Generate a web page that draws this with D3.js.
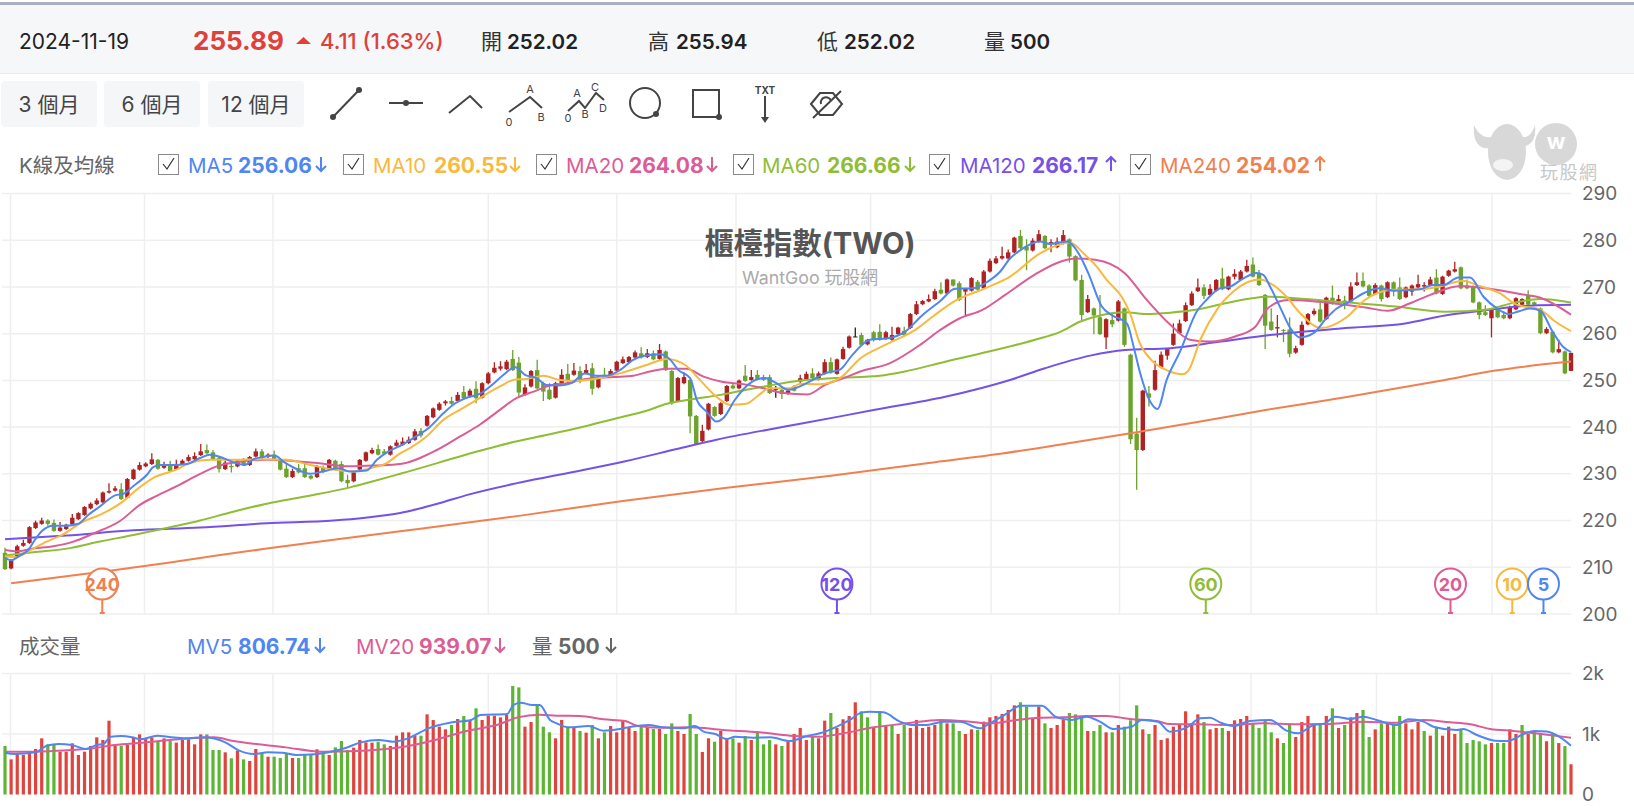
<!DOCTYPE html>
<html>
<head>
<meta charset="utf-8">
<script src="https://cdn.jsdelivr.net/npm/d3@7"></script>
<style>
  html, body { margin: 0; padding: 0; background: #fff; }
  svg { display: block; font-family: Inter, "Noto Sans CJK TC", sans-serif; }
</style>
</head>
<body>
<div id="main_chart"></div>
<script>
// K bars, one entry per session
const opens = [
  213.1,209.75,212.3,214.6,215.2,218.4,219.3,220,219.5,217.8,
  218.2,219.2,220.3,221.2,222.6,223.5,223.9,226,226.4,226.7,
  224.9,228.9,230.9,231.6,232.1,233,231.3,232.1,231,232.1,
  232.8,233.1,234,235.1,234.6,233.4,231,231.7,231.6,232.8,
  231.9,233.7,234.8,233.6,234.1,233,231.1,229.3,231.2,231.2,
  229.6,229.3,231.4,231.2,232.8,232.1,228.7,228.4,230.9,232.8,
  234.4,235.3,234.8,234.1,236,236.2,236.6,237.3,239.2,240.3,
  242.1,243.7,245.1,245.6,245.6,247.5,246.7,248.2,246.3,249.4,
  251.7,252.5,252.4,254.6,253.8,246.9,248.7,252.2,249.4,248,
  246.3,249.4,251.4,251.2,252,251.5,252.6,248.5,251.2,251,
  252.1,253.7,253.9,254.9,255.8,255,255.8,254.6,256.2,252,
  245.6,249.4,250.1,242.4,237,239.5,244.3,242.8,245.6,248.9,
  248.3,251,250.1,251.2,250.7,250.7,248.2,248,247.1,248.7,
  249.75,250.2,251.5,250.25,251.4,253.9,251.4,254.6,257,259.4,
  259.7,257.7,260.3,260.4,258.9,258.7,259.9,260.6,261.2,264.2,
  266.3,266.9,267.4,269.4,268.6,271.6,270.8,269,269.2,271.1,
  269.7,273.3,275.1,276.1,276.1,277.4,280.9,278.6,277.8,279.7,
  280.9,279.2,278.5,279.3,280.2,276.6,271.5,264.6,265.4,263.5,
  259.2,262.9,262.8,265.4,255.5,238.6,235.1,247.2,248,252.8,
  255.3,257.6,260.1,262.7,266.1,269.1,269.9,268.3,269.2,271.8,
  269.5,272.2,271.5,273.3,274.8,272.9,268.3,262.6,261.1,260.8,
  260.9,255.95,257.6,262,264.2,265.2,263.1,267.7,266.9,267.1,
  266.9,270.4,271.3,270.3,268.5,270.3,267.8,271,269.9,267.8,
  269,269.9,270.1,270.4,272,268.5,272.4,273.3,274.2,270.3,
  270.1,266.7,264.6,263.3,265.4,264,263.3,265.2,266.2,268.2,
  266.7,265.4,260.1,260.4,256,256.2,252.02
];
const closes = [
  209.6,211.46,214.5,215.2,218.6,219.6,220,219.3,217.8,218.5,
  219.1,220.6,221.6,222.9,223.6,224.3,226,226.3,226.9,224.6,
  228.9,230.9,231.9,232.2,233.1,231.1,231.9,230.6,232.1,232.8,
  233.6,233.8,234.8,234.4,233.1,231,232.4,231.4,232.8,231.9,
  233.6,234.8,233.4,234.1,233.1,230.9,229.3,230.6,230.3,229.3,
  229,231.7,230.4,233,231.1,228.4,228,230.3,233,234.6,
  235.1,234.1,234.3,235.9,236.7,236.9,237.3,239.1,238.2,242.4,
  244,245,245.5,245,246.9,246.2,247.8,246.2,249.4,251.5,
  252.7,253,254,252.2,247.4,248.5,252,248.3,247.6,246,
  249.4,251.2,250.1,252.1,250.1,252.2,248.2,250.8,250.7,252,
  254,254.5,255,256,254.9,255.8,254.5,256.5,252.2,245.1,
  250.5,250.7,242.3,236.4,239.2,245,242.4,245.1,248.8,248.3,
  249.96,249.9,250.7,250.2,250.1,247.3,248.2,247.1,247.8,247.8,
  250.46,251.4,250.5,251.5,253.9,251.9,254.5,256.7,259.4,259.4,
  257.6,258.7,258.7,258.7,260.3,259.7,261.3,259.7,264.2,266.3,
  267,267.4,269.1,268.6,271.6,270.3,267.2,269.6,271.9,269.4,
  273.3,275.6,276.1,276.6,277.4,280.55,278.3,277.8,279.9,281.3,
  278.3,279.6,279.7,281.1,276.5,271.4,264,267.4,263.9,259.9,
  263.1,262,266.9,257.6,237.4,235.1,247.8,246.3,252.2,255.5,
  256.7,260,262.2,266.1,268.6,269.9,268.1,269.6,271.5,269.5,
  272.2,272.8,273.3,274.5,272.2,270.4,261.7,260.8,261.4,260.6,
  255.7,256.9,261.9,264.2,264.9,262.6,267.7,266.4,267.4,266.4,
  270.1,271,270.1,268.1,270.4,267.4,271,269.1,267.4,269.9,
  270.3,270.6,270.4,271.6,268.6,272.2,273.5,273.8,269.7,269.7,
  266.7,264,264,265.1,263.5,263.3,265.6,267.6,267.4,266.2,
  266.2,260.1,261,256,256.7,251.5,255.89
];
const highs = [
  214.2,211.7,214.8,215.9,218.8,220,220.6,220.3,220.2,219.7,
  219.3,221.4,221.8,223.1,223.9,224.8,226.2,228,227.4,228,
  229.1,231.1,232.5,232.5,234.4,233.2,232.6,232.8,233,233.1,
  234.1,234.6,236.4,236.3,235.1,233.6,232.8,232.1,233.1,233.4,
  233.8,235.4,235.3,234.4,235,233.3,232.1,231.1,232.1,232.1,
  229.8,231.9,231.8,233.2,233,232.7,229.8,230.5,233.2,234.8,
  235.6,236.3,235.3,236.1,237.3,237.8,238,239.6,239.8,242.6,
  244.2,245.3,245.8,246.5,247.5,248.8,248.2,249.8,249.6,251.8,
  253.9,254.1,254.4,256.5,255,249.2,252.2,254.4,249.7,249.4,
  249.7,252.4,253.5,253.7,253,253.5,253.7,251,252.7,252.4,
  254.2,255.1,255.2,256.4,257.1,256.7,256.4,257.8,256.4,252.2,
  250.7,251.7,250.3,242.6,240.5,245.2,244.5,245.3,249,249.4,
  250.2,253.3,252.2,252.2,251.2,251.2,248.8,248.8,248,249,
  251.2,251.9,252.6,251.9,254.5,254.9,254.7,257.2,259.6,261.3,
  260.2,258.9,260.6,262,260.6,261.5,261.5,261.5,264.4,267,
  267.2,268.4,269.6,271,271.8,271.6,271.2,269.8,272.1,271.5,
  273.6,276.1,276.6,278.6,278,280.75,282.2,280.2,280.4,282.2,
  281.1,280.2,280.6,282.2,280.4,276.8,272.6,268.3,265.6,268.3,
  263.3,264.4,267.2,265.6,255.7,242,248,248.8,254.2,256.2,
  256.9,262.2,263,266.7,269.1,271.8,270.6,270.6,271.7,274.1,
  272.4,273.8,273.6,275.8,276.3,273.6,268.5,265.4,264,261,
  263.5,257.4,262.6,264.4,265.4,266.7,267.9,270.3,268.3,268.1,
  271,273.1,273.1,270.6,270.8,270.5,271.2,271.2,272,270.1,
  270.5,272.6,271,272.2,273.8,272.4,273.7,275.4,274.4,271.6,
  270.3,266.9,266.1,265.3,265.6,264.8,266,267.8,267.6,269.3,
  266.9,265.6,261.4,260.6,258.7,256.4,255.94
];
const lows = [
  209.4,209.6,212,214.4,215,218.2,219.1,218.9,217.6,217.6,
  218,219,220.1,221,222.4,223.3,223.7,225.8,226.2,224.4,
  224.7,228.7,230.7,231.4,231.9,230.9,231.1,230.4,230.8,231.9,
  232.6,232.9,233.8,234.2,232.9,230.3,230.8,230.3,231.4,231.7,
  231.7,233.5,233.2,233.4,232.9,230.7,229.1,229.1,230.1,229.1,
  228.8,229.1,230.2,231,230.9,228.2,226.9,228.2,230.7,232.6,
  234.2,233.9,234.1,233.9,235.8,236,236.4,237.1,237.8,240.1,
  241.9,243.5,244.6,244.8,245.4,246,246.5,245.1,246.1,249.2,
  251.5,252.1,252.2,252,246.4,246.7,248.5,248.1,245.6,245.8,
  246.1,249.2,249.4,251,249.4,251.3,246.9,248.3,250.5,250.8,
  251.9,253.5,253.7,254.7,254.7,254.8,254.3,254.4,252,244.8,
  245.4,249.2,238.7,236.2,236.8,239.3,242.2,242.6,245.4,248.1,
  248.1,249.7,249.9,250,249.9,247.1,246.3,246,246.9,247.6,
  249.3,250,250.3,250,251.2,251.4,251.2,254.4,256.8,259.3,
  257.4,257.5,258.3,258.5,258.7,258.5,259.7,259.5,261,264,
  266.1,266.7,267.2,268.4,268.4,270.1,267,263.9,269,269.2,
  269.5,273.1,274.9,275.9,275.9,277.2,278.1,273.6,277.6,279.5,
  278.1,277.4,278.3,279.1,275.2,271.2,262.9,264.4,259.9,259.7,
  256.7,261.4,262.6,257.2,236.4,226.6,234.9,244.4,247.8,252.6,
  254.4,257.4,259.9,262.5,265.9,268.9,267.4,268.1,269,269.3,
  269.3,271.6,271.3,273.1,272,270.2,256.7,260.6,259.2,258.2,
  254.95,255.7,257.4,261.8,263.9,262.4,262.9,266.2,266.7,265.2,
  266.7,270.2,269.9,267.9,268.3,266.9,267.6,268,267.2,267.6,
  268.1,269.7,269,270.2,268.4,268.3,272.2,273.1,269.5,269.5,
  266.5,263.1,263.8,259.2,263.3,263.1,263.1,265,266,266,
  266,259.9,259.9,255.8,255.8,251.3,252.02
];
const volumes = [
  802,581,680,653,691,752,928,829,829,708,
  708,846,653,708,802,945,901,1220,829,807,
  818,939,994,917,939,884,928,884,857,901,
  912,829,994,994,736,736,697,598,725,581,
  554,752,691,625,625,603,669,603,603,653,
  669,747,680,653,779,884,736,774,901,862,
  857,873,829,802,972,1027,1027,972,972,1325,
  1231,1121,1077,1149,1248,1297,1231,1424,1231,1303,
  1303,1275,1314,1793,1771,1121,1198,1479,1121,1028,
  929,1232,1110,1110,1050,1022,1149,929,1028,1132,
  1028,1215,1110,1050,1132,1105,1083,1083,1000,1176,
  1050,1000,1331,1000,703,929,873,1050,912,929,
  857,967,901,1022,829,901,829,802,873,1000,
  1099,901,956,929,1221,1347,1099,1243,1298,1524,
  1375,1276,1105,1375,1132,1149,1000,1149,1099,1232,
  1099,1121,1149,1215,1176,1176,1050,1000,1077,1066,
  1204,1276,1298,1331,1397,1474,1524,1452,1259,1452,
  1176,1099,1149,1232,1347,1325,1276,1050,1050,1149,
  1028,1028,1149,1121,1226,1474,1077,1000,1149,901,
  929,1121,1149,1375,1176,1325,1198,1077,1099,1099,
  1050,1226,1248,1298,1176,1099,1226,1028,929,851,
  1149,950,1198,1298,1149,1149,1298,1424,1099,1149,
  1276,1347,1397,950,1077,1176,1176,1149,1298,1176,
  1077,1198,1050,973,1099,973,1121,1000,1066,851,
  901,879,829,851,851,851,1077,1000,1149,1000,
  1050,1000,880,1000,850,800,500
];
// sessions whose volume bar is green
const volDown = [
  0,7,8,19,25,27,33,34,35,37,39,42,44,45,46,48,49,50,52,54,55,56,61,62,68,73,75,77,83,84,
  87,88,89,92,94,96,98,104,106,108,109,112,113,116,119,121,123,124,125,127,132,135,140,141,143,145,147,
  153,155,156,159,166,167,170,174,175,176,178,179,181,183,184,185,187,196,199,204,205,206,207,
  209,210,215,217,219,222,223,225,227,228,232,234,238,239,240,241,242,244,245,248,250,251,253,255
];

// moving averages, [session, value]
const ma5 = [[0,212],[1,211.5],[2.4,212.5],[3.8,213.7],[4.9,215.9],[6,217.7],[7.9,218.9],[10.1,218.9],[12,219.3],[13.6,221.2],[15.5,223],[18,225.4],[19.3,225.7],[21,227.4],[23.2,229.8],[24.2,231.4],[25.3,231.9],[27.5,231.9],[29.7,232.1],[31.9,233.4],[33.5,234.1],[35.2,233.6],[37.3,232.5],[39.2,231.9],[40.6,233.1],[42.2,233.6],[44.1,233.9],[45.5,232.6],[47.4,231.2],[49.9,230],[52,230.5],[54.5,231.2],[56.4,230.5],[59.1,230.7],[60.8,233],[62.7,234.8],[64.6,236],[66.7,237.6],[69.5,240.1],[71.7,243],[73.6,245.1],[75.7,246.4],[77.6,247.1],[79.6,249],[81.5,251.2],[83.4,252.8],[85,251.2],[86.9,250.5],[88.5,249],[90.7,248.9],[92.6,249.4],[94.8,251.5],[96.5,251],[98.4,251],[100.5,252.2],[102.7,254.4],[104.3,255.2],[107.1,255.6],[108.7,254.5],[110.1,252.2],[112,250.5],[113.1,245.8],[114.7,243.3],[116.3,241.2],[117.4,241.9],[119.3,245.8],[121.8,249.4],[124.2,250.5],[126.1,249.4],[128,248],[131.6,249.8],[134,251.5],[136.5,252.3],[138.5,255.4],[141.4,258.7],[144.3,259],[147.1,260.4],[150,264],[152.9,267],[155.3,269.6],[158.2,269.7],[160.6,271.1],[162.7,273.3],[164.3,276.1],[165.7,277.6],[169.2,279.7],[170.8,279.2],[173.6,279.7],[175.5,277.2],[177.1,272.9],[179.3,265.8],[180.9,264],[183.4,262.2],[184.5,257.2],[185.5,251.9],[187.2,245.5],[188.4,243.9],[189.9,250.1],[192.1,256.2],[194.8,264.7],[196.4,267.2],[198.6,269.7],[200.3,270.1],[202.4,271.8],[204.6,273],[205.7,272.6],[206.8,270.1],[208.4,265.8],[210.3,260.8],[211.7,259.2],[213.9,260.1],[216,263.3],[217.7,265.4],[219.9,266.9],[222,268.6],[224.8,269.7],[227,269.2],[231.3,269.5],[233.5,270.4],[235.1,270.4],[237.6,272],[239.5,272],[241.7,267.9],[243.9,265.4],[245.8,264.2],[247.5,264.8],[249.3,265.4],[251,264.9],[253,260.4],[254.7,257.2],[256,256.06]];
const ma10 = [[0,212.3],[1.9,212.2],[4.1,213.6],[6.8,215.5],[9.3,216.9],[12.8,219.8],[15.5,221.2],[19.3,224.1],[21.5,226.6],[24.2,229.1],[28,230.9],[30.2,232.3],[33.5,233],[37.3,233],[41.7,233.1],[46,233],[49.9,231.9],[53.7,230.9],[57,230.5],[59.7,231.2],[62.4,232.3],[64.6,234.4],[66.2,235.5],[68.9,238],[71.7,241.6],[74.9,244.1],[77.6,246.2],[80.9,248.7],[83.4,250.2],[85.3,250.3],[88,251],[90.7,250.1],[93.5,249.9],[97.3,250.5],[100.5,251.5],[104.9,253.3],[108.2,254.6],[111.2,253.3],[113.6,250.1],[116.3,246.5],[118.5,244.8],[121.2,245],[122.9,246.5],[125,248.3],[128.3,248.3],[130,249.3],[133.2,249.2],[136.5,250.5],[139.8,254.7],[143.9,257.6],[148.8,260.8],[152,264],[155.3,267],[160.2,269.7],[164.3,272.2],[169.2,277.2],[174.1,279.5],[176.3,277.2],[178.5,274.3],[180.1,271.5],[182.6,267.8],[183.9,264.4],[185.5,258],[187.7,254],[189.9,252.2],[192.5,251.3],[193.5,252.2],[195.4,258.7],[198.1,265.1],[200.8,269],[203.3,271.1],[205.2,271.6],[206.8,270.8],[209.5,267.9],[211.7,264.4],[215.2,261.2],[219.3,263.5],[222.3,267.2],[227,269.4],[231.3,269.5],[234.6,270.1],[238.4,271.3],[240.6,270.4],[244.4,268.6],[247.1,266.2],[251,265.1],[253.4,262.6],[256,260.55]];
const ma20 = [[0,213.7],[1.9,213.4],[4.6,214],[7.9,214.5],[11.2,215.5],[14.4,217.2],[18.8,219.9],[22.1,223.4],[24.8,225.3],[28,227.3],[31.9,230],[34.6,231.6],[38.4,232.6],[42.8,233],[46.6,232.8],[51,232.3],[56.4,231.6],[60.8,231.8],[64.6,232.1],[70.6,235.1],[74.4,238],[77.6,240.5],[80.9,243.7],[83.6,246.2],[86.4,247.6],[89.1,248.9],[91.8,249.4],[95.1,250.3],[99.5,250.7],[102.7,251],[105.4,251.9],[108.2,252.5],[111.4,252.5],[114.2,250.8],[117.2,249.7],[120.7,249.2],[124,248.3],[127.2,247.3],[131.2,247],[134,249],[137.3,250.6],[139.8,251.9],[144.7,253.7],[149.6,257.6],[152.9,260.8],[156.1,263.3],[159.8,265.1],[163.5,268.3],[168.4,272.7],[172.5,275.4],[175,276.1],[178.2,275.8],[183.1,272.9],[186.4,267.6],[190.5,261.9],[193.7,258.7],[197,258.3],[201.1,259.4],[204.4,261.5],[206.4,265.4],[209.7,267.2],[214.2,266.9],[219.1,266.2],[222.4,265.6],[226,264.9],[229.7,266.5],[233,268.3],[237.9,270.2],[242,269.7],[247.7,268.5],[251,267.7],[256,264.08]];
const ma60 = [[0,212.5],[4.6,213.2],[10.6,214.1],[15.5,215.5],[21,216.9],[26.4,218.4],[31.9,220],[37.3,221.9],[42.8,223.6],[49.3,225.2],[56.4,227.1],[60.2,228.4],[64.6,230],[78.7,235.3],[83.1,236.8],[88.5,238.3],[94,239.9],[100,241.9],[104.9,243.5],[108.2,245],[112.5,246],[116.9,246.9],[121.2,248],[125,248.9],[129.2,249.8],[135.7,250.5],[143,251],[147.1,251.9],[153.7,254],[161.9,256.5],[168.4,258.7],[172.5,260.4],[175.8,262.6],[179,263.9],[183.1,264.6],[186.4,264.2],[190.5,264.5],[194.6,265.1],[199.5,266.5],[206.4,267.9],[210.9,267.6],[219.1,266.7],[227.3,265.8],[235.4,264.7],[242,265.1],[246.9,266.7],[251,267.4],[256,266.66]];
const ma120 = [[0,216],[10.1,216.8],[21,217.9],[31.9,218.5],[42.8,219.4],[53.7,220],[58.9,220.6],[64.6,221.6],[67.3,222.4],[71,223.7],[75.9,225.6],[84.4,228.2],[92.9,230.4],[101.4,232.7],[109.8,235.3],[116.3,237.3],[124.5,239.4],[130,240.7],[142.2,243.7],[153.7,246.5],[164.3,250.1],[170,252.6],[177.4,255.3],[183.1,256.5],[190.5,256.9],[198.7,258.3],[206.8,259.7],[219.1,261.2],[228.9,262.2],[235.4,263.9],[242,265],[249.3,266],[256,266.17]];
const ma240 = [[1,206.6],[15.5,209],[26.4,210.9],[34.6,212.5],[42.8,214],[53.7,215.9],[64.6,217.7],[84,221],[101,224.2],[118,227],[135,229.6],[152,232.5],[162.7,234.3],[173.6,236.5],[184.5,238.8],[195.4,241.2],[206.3,243.7],[219.1,246.4],[235.4,250.1],[243.6,252.1],[256,254.02]];

const mv5 = [[0,691],[1.5,669],[5,697],[6.8,807],[8.8,835],[10.9,818],[13.2,752],[15,818],[16.1,835],[17.3,956],[19,967],[20.8,945],[22.2,912],[24.9,972],[27.2,945],[29.5,928],[32.5,945],[36,862],[38.3,725],[40.6,669],[43,697],[45.3,691],[47.6,653],[50.6,664],[52.9,697],[55.8,774],[58.2,862],[61.1,901],[63.4,873],[66.3,945],[69.2,1094],[72.7,1187],[76.2,1231],[77.7,1314],[82.1,1330],[83.1,1479],[84.3,1518],[86.2,1479],[87.4,1480],[89.1,1232],[90.2,1176],[92.1,1110],[95.4,1132],[97.8,1055],[100.5,1083],[102.4,1121],[105.2,1149],[107.6,1110],[110.9,1094],[112.8,1132],[114.2,1039],[116.1,1000],[118,918],[119.3,956],[122.3,940],[125.1,945],[128.3,884],[131.1,967],[133.2,1011],[136,1121],[138.1,1232],[140,1353],[141.4,1369],[143.6,1358],[146.3,1204],[148.2,1149],[150.7,1149],[153.4,1204],[156.1,1204],[159.4,1094],[161,1176],[163.8,1342],[166,1468],[169.5,1468],[171.9,1276],[174.4,1232],[176.8,1287],[179,1204],[181.2,1083],[184.2,1121],[185.8,1232],[188.5,1204],[190.4,1039],[193.2,1110],[195.4,1259],[197,1270],[198.6,1193],[200.8,1132],[203.5,1215],[206.8,1232],[209.5,1055],[211.4,1011],[213.9,1149],[215.8,1176],[217.4,1287],[219.9,1248],[222.1,1287],[224.2,1232],[227.5,1149],[229.4,1243],[231.9,1204],[233.5,1121],[237.3,1066],[238.4,1083],[240.6,984],[243.6,890],[245.5,884],[248.2,995],[250,1050],[252,1040],[254,960],[256,806.74]];
const mv20 = [[0,708],[5,708],[10.9,736],[14.4,763],[17.9,818],[22.5,857],[28.4,912],[34.2,945],[37.1,890],[45.9,779],[51.7,708],[57.6,719],[63.4,763],[69.2,873],[75,1038],[80.9,1165],[83.8,1275],[87.4,1320],[90.2,1303],[94,1298],[97.8,1243],[101.4,1215],[103.3,1138],[107.1,1105],[112,1110],[117.4,1066],[123.4,1028],[128.3,973],[133.2,956],[136.5,1000],[142,1110],[147.4,1176],[152.9,1232],[157.8,1204],[161,1176],[165.4,1232],[169.2,1268],[173,1276],[176.8,1298],[180.1,1298],[183.9,1248],[188.3,1215],[190.4,1165],[194.8,1160],[200.3,1149],[205.7,1176],[211.2,1160],[216.6,1165],[222.1,1204],[227.5,1187],[231.9,1232],[236.2,1193],[239.5,1160],[242.8,1083],[246.6,1050],[249.3,1022],[256,939.07]];

const priceTicks = [200,210,220,230,240,250,260,270,280,290];
const volTicks = [0,1000,2000];
const monthLines = [0.9,22.8,43.8,79,100,119.5,141.5,161.2,182.2,203.7,224.2,243.1];

const maNames = ["MA5","MA10","MA20","MA60","MA120","MA240"];
const maValues = ["256.06","260.55","264.08","266.66","266.17","254.02"];
const maDirs = ["down","down","down","down","up","up"];
const maColors = ["#4f86f2","#f7b93e","#dc5c96","#8fbd35","#7651e8","#f08050"];
const badgeLabels = ["240","120","60","20","10","5"];
const badgeSessions = [15.9,136,196.3,236.3,246.4,251.5];
const badgeColors = ["#f08050","#7651e8","#8fbd35","#dc5c96","#f7b93e","#4f86f2"];

const width = 1634;
const height = 812;
const RED = "#ae2222";
const GREEN = "#6ca32c";
const VRED = "#e0443c";
const VGREEN = "#5cb533";

const x = d3.scaleLinear().domain([0, 256]).range([5, 1571]);
const y = d3.scaleLinear().domain([200, 290]).range([614, 193.5]);
const yVol = d3.scaleLinear().domain([0, 2000]).range([794.5, 673.5]);

const svg = d3.create("svg").attr("width", width).attr("height", height);

function label(g, px, py, str, opts) {
  const o = opts || {};
  return g.append("text")
    .attr("x", px).attr("y", py)
    .attr("dominant-baseline", "central")
    .attr("text-anchor", o.anchor || "start")
    .attr("font-size", o.size || 21)
    .attr("font-weight", o.weight || 400)
    .attr("fill", o.color || "#333")
    .text(str);
}

// arrow used next to the legend values
function arrow(g, px, py, dir, color) {
  const s = dir === "up" ? -1 : 1;
  g.append("path")
    .attr("d", `M${px},${py - 7 * s}V${py + 7 * s}M${px - 5},${py + 2 * s}L${px},${py + 7 * s}L${px + 5},${py + 2 * s}`)
    .attr("fill", "none").attr("stroke", color).attr("stroke-width", 2);
}

// top price strip
svg.append("rect").attr("x", 0).attr("y", 5).attr("width", width).attr("height", 68).attr("fill", "#f6f7f9");
svg.append("rect").attr("x", 0).attr("y", 2).attr("width", width).attr("height", 3).attr("fill", "#a9b0bf");
svg.append("line").attr("x1", 0).attr("x2", width).attr("y1", 73.5).attr("y2", 73.5).attr("stroke", "#e9eaec");
const head = svg.append("g");
label(head, 19, 41, "2024-11-19", { size: 21, color: "#222" });
label(head, 193, 40, "255.89", { size: 26, weight: 700, color: "#e0403a" });
head.append("path").attr("d", "M296,44L303.5,37L311,44Z").attr("fill", "#e0403a");
label(head, 320, 41, "4.11 (1.63%)", { size: 22, weight: 500, color: "#e0403a" });
label(head, 481, 41, "開", { size: 21, color: "#333" });
label(head, 507, 41, "252.02", { size: 20.6, weight: 600, color: "#222" });
label(head, 648, 41, "高", { size: 21, color: "#333" });
label(head, 676, 41, "255.94", { size: 20.6, weight: 600, color: "#222" });
label(head, 817, 41, "低", { size: 21, color: "#333" });
label(head, 844, 41, "252.02", { size: 20.6, weight: 600, color: "#222" });
label(head, 984, 41, "量", { size: 21, color: "#333" });
label(head, 1010, 41, "500", { size: 20.6, weight: 600, color: "#222" });

// period buttons
[["3 個月", 1, 96], ["6 個月", 104, 96], ["12 個月", 208, 96]].forEach(([t, bx, bw]) => {
  svg.append("rect").attr("x", bx).attr("y", 81).attr("width", bw).attr("height", 46).attr("rx", 4).attr("fill", "#f5f6f8");
  label(svg, bx + bw / 2, 104, t, { size: 21, anchor: "middle", color: "#444" });
});

// drawing tool icons
const tools = svg.append("g").attr("fill", "none").attr("stroke", "#444").attr("stroke-width", 2);
tools.append("path").attr("d", "M333,117L359,90");
tools.append("path").attr("d", "M389,103H423");
tools.append("path").attr("d", "M449,113L470,96L482,108");
tools.append("path").attr("d", "M509,112L530,97L542,108");
tools.append("path").attr("d", "M568,111L579,101L585,108L596,93L604,100");
tools.append("circle").attr("cx", 645).attr("cy", 103).attr("r", 15);
tools.append("rect").attr("x", 693).attr("y", 90).attr("width", 26).attr("height", 27);
tools.append("path").attr("d", "M765,96V120");
tools.append("path").attr("d", "M811,104L820,93H833L842,104L833,115H820Z");
tools.append("path").attr("d", "M821,104A5,5 0 0 1 831,101");
tools.append("path").attr("d", "M813,118L841,91");
[[333,117],[359,90],[406,103],[656,114],[719,117]].forEach(([cx, cy]) => {
  svg.append("circle").attr("cx", cx).attr("cy", cy).attr("r", 3).attr("fill", "#444");
});
svg.append("path").attr("d", "M761,117L765,123L769,117Z").attr("fill", "#444");
[["A",530,89],["0",509,122],["B",541,117],["A",577,93],["C",595,87],["0",568,118],["B",585,114],["D",603,108]].forEach(([t, lx, ly]) => {
  label(svg, lx, ly, t, { size: 11, anchor: "middle", color: "#444" });
});
label(svg, 765, 90, "TXT", { size: 10, weight: 700, anchor: "middle", color: "#444" });

// logo top right
const logo = svg.append("g").attr("fill", "#d8d8d8");
logo.append("ellipse").attr("cx", 1507).attr("cy", 152).attr("rx", 19).attr("ry", 28);
logo.append("path").attr("d", "M1474,125C1472,146 1484,152 1494,146L1491,137C1484,138 1478,134 1474,125Z");
logo.append("path").attr("d", "M1535,125C1537,142 1528,148 1520,146L1522,137C1528,138 1532,134 1535,125Z");
logo.append("circle").attr("cx", 1556).attr("cy", 144).attr("r", 21);
label(svg, 1556, 141, "w", { size: 22, weight: 700, anchor: "middle", color: "#fff" });
logo.append("ellipse").attr("cx", 1503).attr("cy", 165).attr("rx", 10).attr("ry", 6).attr("fill", "#f4f4f4");
label(svg, 1540, 172, "玩股網", { size: 18, color: "#c8c8c8" }).attr("letter-spacing", 1.5);

// MA legend row
label(svg, 19, 165, "K線及均線", { size: 20.5, color: "#666" });
const boxX = [158, 343, 536, 733, 929, 1130];
const nameX = [188, 373, 566, 762, 960, 1160];
const valueX = [238, 434, 629, 827, 1032, 1236];
const arrowX = [321, 515, 712, 910, 1111, 1320];
maNames.forEach((name, i) => {
  svg.append("rect").attr("x", boxX[i] + 0.5).attr("y", 154.5).attr("width", 20).attr("height", 20)
    .attr("fill", "#fff").attr("stroke", "#8a8a8a");
  svg.append("path").attr("d", `M${boxX[i] + 5},164L${boxX[i] + 9},169L${boxX[i] + 16},158`)
    .attr("fill", "none").attr("stroke", "#333").attr("stroke-width", 1.2);
  label(svg, nameX[i], 165, name, { size: 20.5, color: maColors[i] });
  label(svg, valueX[i], 165, maValues[i], { size: 21, weight: 700, color: maColors[i] });
  arrow(svg, arrowX[i], 164, maDirs[i], maColors[i]);
});

// volume legend row
label(svg, 19, 646, "成交量", { size: 20.5, color: "#666" });
label(svg, 187, 646, "MV5", { size: 20.5, color: maColors[0] });
label(svg, 238, 646, "806.74", { size: 21, weight: 700, color: maColors[0] });
arrow(svg, 320, 645, "down", maColors[0]);
label(svg, 356, 646, "MV20", { size: 20.5, color: maColors[2] });
label(svg, 419, 646, "939.07", { size: 21, weight: 700, color: maColors[2] });
arrow(svg, 500, 645, "down", maColors[2]);
label(svg, 532, 646, "量", { size: 20.5, color: "#666" });
label(svg, 558, 646, "500", { size: 21, weight: 700, color: "#666" });
arrow(svg, 611, 645, "down", "#666");

// grid
const grid = svg.append("g").attr("stroke", "#efeff1").attr("stroke-width", 1.5);
priceTicks.forEach((t) => {
  grid.append("line").attr("x1", 2).attr("x2", 1571).attr("y1", y(t)).attr("y2", y(t));
});
[2000, 1000].forEach((t) => {
  grid.append("line").attr("x1", 2).attr("x2", 1571).attr("y1", yVol(t)).attr("y2", yVol(t));
});
monthLines.forEach((m) => {
  grid.append("line").attr("x1", x(m)).attr("x2", x(m)).attr("y1", y(290)).attr("y2", y(200));
  grid.append("line").attr("x1", x(m)).attr("x2", x(m)).attr("y1", yVol(2000)).attr("y2", yVol(0));
});

// axes
const axisP = svg.append("g").attr("transform", "translate(1579,0)")
  .call(d3.axisRight(y).tickValues(priceTicks).tickSize(0));
const axisV = svg.append("g").attr("transform", "translate(1579,0)")
  .call(d3.axisRight(yVol).tickValues(volTicks).tickSize(0).tickFormat((d) => (d ? d / 1000 + "k" : "0")));
[axisP, axisV].forEach((a) => {
  a.select(".domain").remove();
  a.selectAll("text").attr("font-size", 19).attr("font-family", "Inter, sans-serif").attr("fill", "#666");
});

// title
label(svg, 810, 243, "櫃檯指數(TWO)", { size: 29.3, weight: 700, anchor: "middle", color: "#555" });
label(svg, 810, 277, "WantGoo 玩股網", { size: 17.8, anchor: "middle", color: "#aaa" });

// candles
const candleColor = (i) => (closes[i] > opens[i] ? RED : closes[i] < opens[i] ? GREEN : "#222");
const candles = svg.append("g").selectAll("g").data(d3.range(opens.length)).join("g");
candles.append("line")
  .attr("x1", (i) => x(i)).attr("x2", (i) => x(i))
  .attr("y1", (i) => y(highs[i])).attr("y2", (i) => y(lows[i]))
  .attr("stroke", candleColor).attr("stroke-width", 1.3);
candles.append("rect")
  .attr("x", (i) => x(i) - 2.2).attr("width", 4.4)
  .attr("y", (i) => y(Math.max(opens[i], closes[i])))
  .attr("height", (i) => Math.max(1, Math.abs(y(opens[i]) - y(closes[i]))))
  .attr("fill", candleColor);

// moving averages
const line = d3.line().x((p) => x(p[0])).y((p) => y(p[1])).curve(d3.curveMonotoneX);
[[ma240, 5], [ma120, 4], [ma60, 3], [ma20, 2], [ma10, 1], [ma5, 0]].forEach(([pts, c]) => {
  svg.append("path").attr("d", line(pts)).attr("fill", "none")
    .attr("stroke", maColors[c]).attr("stroke-width", 2).attr("stroke-linejoin", "round");
});

// badges
badgeLabels.forEach((t, i) => {
  const g = svg.append("g").attr("stroke", badgeColors[i]).attr("stroke-width", 2);
  g.append("circle").attr("cx", x(badgeSessions[i])).attr("cy", 584).attr("r", 15.5).attr("fill", "#fff");
  g.append("line").attr("x1", x(badgeSessions[i])).attr("x2", x(badgeSessions[i])).attr("y1", 600).attr("y2", 613);
  g.append("line").attr("x1", x(badgeSessions[i]) - 2.5).attr("x2", x(badgeSessions[i]) + 2.5).attr("y1", 613).attr("y2", 613);
  label(svg, x(badgeSessions[i]), 584, t, { size: 18, weight: 700, anchor: "middle", color: badgeColors[i] });
});

// volume bars
svg.append("g").selectAll("rect").data(volumes).join("rect")
  .attr("x", (d, i) => x(i) - 1.6).attr("width", 3.2)
  .attr("y", (d) => yVol(d)).attr("height", (d) => yVol(0) - yVol(d))
  .attr("fill", (d, i) => (volDown.includes(i) ? VGREEN : VRED));

const lineVol = d3.line().x((p) => x(p[0])).y((p) => yVol(p[1])).curve(d3.curveMonotoneX);
svg.append("path").attr("d", lineVol(mv20)).attr("fill", "none").attr("stroke", maColors[2]).attr("stroke-width", 2);
svg.append("path").attr("d", lineVol(mv5)).attr("fill", "none").attr("stroke", maColors[0]).attr("stroke-width", 2);

document.getElementById("main_chart").append(svg.node());
</script>
</body>
</html>
